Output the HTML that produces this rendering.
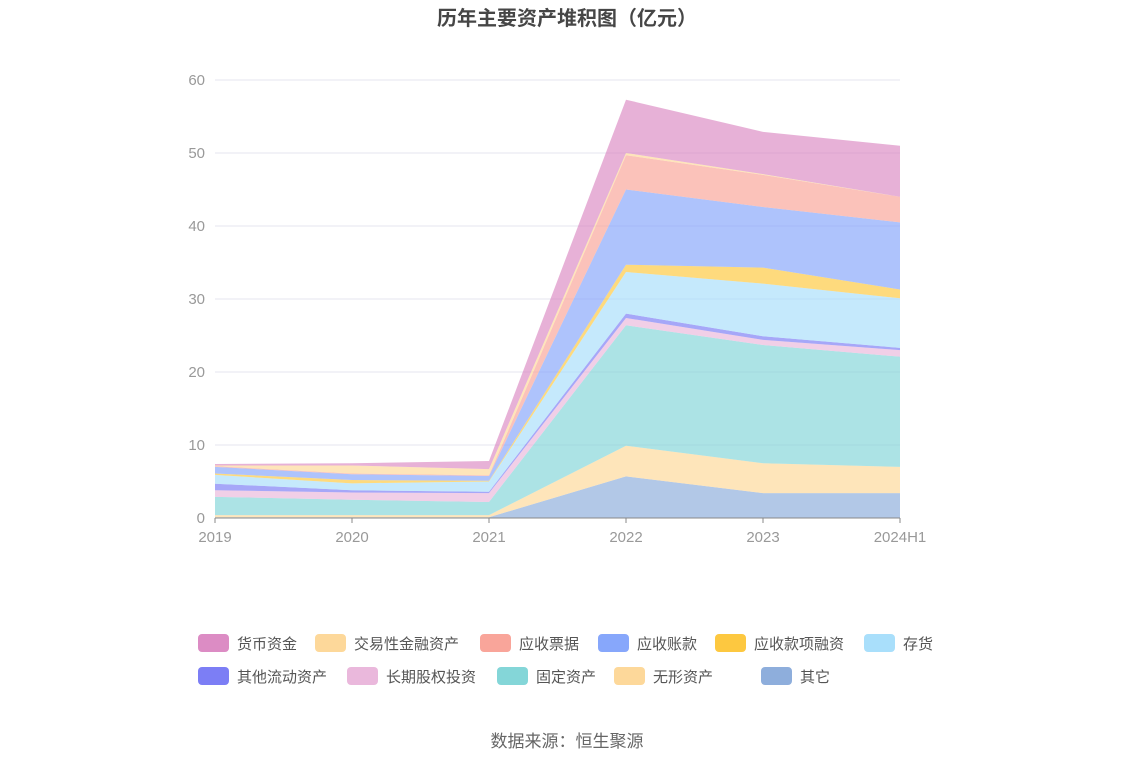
<!DOCTYPE html>
<html><head><meta charset="utf-8"><style>
body{margin:0;background:#fff;width:1134px;height:766px;overflow:hidden;font-family:"Liberation Sans","Noto Sans CJK SC",sans-serif;}
</style></head><body>
<svg id="chart" width="1134" height="766" xmlns="http://www.w3.org/2000/svg" font-family="Liberation Sans, Noto Sans CJK SC, sans-serif">
<text x="567" y="25" text-anchor="middle" font-size="20" font-weight="bold" fill="#464646">历年主要资产堆积图（亿元）</text>
<g id="grid"></g>
<g id="areas"></g>
<g id="axes"></g>
<g id="legend"></g>
<text x="567" y="747" text-anchor="middle" font-size="17" fill="#666">数据来源：恒生聚源</text>
</svg>
<script>
const categories=["2019","2020","2021","2022","2023","2024H1"];
const yTicks=[0,10,20,30,40,50,60];
const seriesNames=["其它","无形资产","固定资产","长期股权投资","其他流动资产","存货","应收款项融资","应收账款","应收票据","交易性金融资产","货币资金"];
const sOther=[0.1,0.1,0.1,5.7,3.4,3.4];
const sIntangible=[0.3,0.3,0.3,4.2,4.1,3.6];
const sFixed=[2.5,2.1,1.8,16.5,16.2,15.1];
const sLongEquity=[0.9,1.0,1.2,1.0,0.7,0.9];
const sOtherCurrent=[0.9,0.3,0.2,0.6,0.5,0.3];
const sInventory=[1.2,0.95,1.4,5.7,7.2,6.8];
const sRecvFin=[0.2,0.45,0.1,1.0,2.2,1.2];
const sRecvAcct=[0.9,0.8,0.65,10.3,8.3,9.2];
const sRecvNotes=[0.1,0.1,0.1,4.7,4.4,3.5];
const sTrading=[0.1,1.1,0.85,0.3,0.1,0.0];
const sCash=[0.2,0.3,1.1,7.3,5.8,7.0];
const seriesValues=[sOther,sIntangible,sFixed,sLongEquity,sOtherCurrent,sInventory,sRecvFin,sRecvAcct,sRecvNotes,sTrading,sCash];
const colors=["#8eaedc","#fdd89a","#84d6d8","#eab8dc","#7c7ef5","#a9dffb","#fdc840","#87a7fb","#f9a59a","#fdd89a","#dc8cc4"];
const NS="http://www.w3.org/2000/svg";
const X0=215,X1=900,Y0=518,Y1=80,YMAX=60;
const xs=i=>X0+i*(X1-X0)/(categories.length-1);
const ys=v=>Y0-v*(Y0-Y1)/YMAX;
function mk(tag,attrs,parent){const e=document.createElementNS(NS,tag);for(const k in attrs)e.setAttribute(k,attrs[k]);parent.appendChild(e);return e;}
const grid=document.getElementById('grid');
yTicks.forEach(t=>{
  const l=mk('line',{x1:X0,x2:X1,y1:ys(t),y2:ys(t),stroke:t===0?'#aab':'#e4e4ef','stroke-width':1},grid);
  
  
  const tx=mk('text',{x:205,y:ys(t)+5,'text-anchor':'end','font-size':15,fill:'#999'},grid);
  tx.textContent=t;
  
  
});
const areas=document.getElementById('areas');
let base=categories.map(()=>0);
seriesValues.forEach((vals,si)=>{
  const top=base.map((b,i)=>b+vals[i]);
  let d='M'+top.map((v,i)=>xs(i)+','+ys(v)).join('L');
  for(let i=categories.length-1;i>=0;i--)d+='L'+xs(i)+','+ys(base[i]);
  d+='Z';
  const p=mk('path',{d:d,fill:colors[si],'fill-opacity':0.68,stroke:'none'},areas);
  
  
  base=top;
});
const axes=document.getElementById('axes');
mk('line',{x1:X0,x2:X1,y1:Y0,y2:Y0,stroke:'#888','stroke-width':1},axes);
categories.forEach((c,i)=>{
  mk('line',{x1:xs(i),x2:xs(i),y1:Y0,y2:Y0+5,stroke:'#888'},axes);
  const t=mk('text',{x:xs(i),y:542,'text-anchor':'middle','font-size':15,fill:'#999'},axes);
  t.textContent=c;
  
  
});
const legendItems=[
 ["货币资金","#dc8cc4",198,643],["交易性金融资产","#fdd89a",315,643],["应收票据","#f9a59a",480,643],["应收账款","#87a7fb",598,643],["应收款项融资","#fdc840",715,643],["存货","#a9dffb",864,643],
 ["其他流动资产","#7c7ef5",198,676],["长期股权投资","#eab8dc",347,676],["固定资产","#84d6d8",497,676],["无形资产","#fdd89a",614,676],["其它","#8eaedc",761,676]];
const lg=document.getElementById('legend');
legendItems.forEach(it=>{
  const g=mk('g',{},lg);
  
  
  mk('rect',{x:it[2],y:it[3]-9,width:31,height:18,rx:4,fill:it[1]},g);
  const t=mk('text',{x:it[2]+39,y:it[3]+6,'font-size':15,fill:'#555'},g);
  t.textContent=it[0];
});
</script>
</body></html>
